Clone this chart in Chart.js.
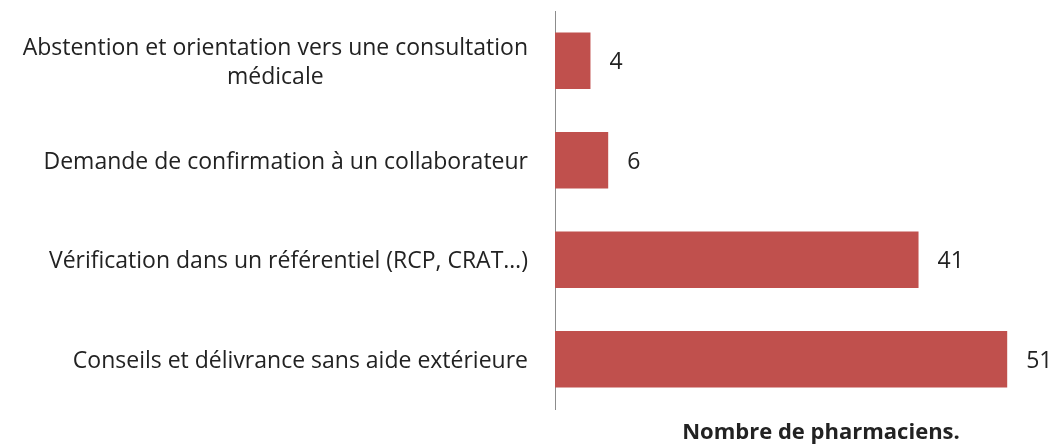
<!DOCTYPE html>
<html>
<head>
<meta charset="utf-8">
<script src="https://cdn.jsdelivr.net/npm/chart.js@4.4.1/dist/chart.umd.min.js"></script>
<style>
html,body{margin:0;padding:0;background:#fff;overflow:hidden;}
#wrap{width:1057px;height:445px;position:relative;overflow:hidden;}
</style>
</head>
<body>
<div id="wrap"><canvas id="c" width="1087" height="445"></canvas></div>
<script>
const categories = [
  ["Abstention et orientation vers une consultation", "médicale"],
  ["Demande de confirmation à un collaborateur"],
  ["Vérification dans un référentiel (RCP, CRAT…)"],
  ["Conseils et délivrance sans aide extérieure"]
];
const values = [4, 6, 41, 51];
const axisTitle = "Nombre de pharmaciens.";
const xMin = 0, xMax = 60;

const FONT = "'Open Sans', sans-serif";
const TEXT = "#222222";

const labelsPlugin = {
  id: 'customLabels',
  afterDatasetsDraw(chart) {
    const ctx = chart.ctx;
    const ys = chart.scales.y;
    const meta = chart.getDatasetMeta(0);
    ctx.save();
    ctx.fillStyle = TEXT;
    ctx.font = "23px " + FONT;
    ctx.textBaseline = 'middle';
    const lh = 29;
    const dy = 2;
    categories.forEach((lines, i) => {
      const cy = ys.getPixelForTick(i) + dy;
      const w = Math.max(...lines.map(l => ctx.measureText(l).width));
      const right = ys.right - 27;
      const cx = right - w / 2;
      ctx.textAlign = 'center';
      const y0 = cy - (lines.length - 1) * lh / 2;
      lines.forEach((l, k) => ctx.fillText(l, cx, y0 + k * lh));
    });
    ctx.textAlign = 'left';
    meta.data.forEach((bar, i) => {
      ctx.fillText(String(values[i]), bar.x + 19, bar.y + dy);
    });
    ctx.restore();
  }
};

new Chart(document.getElementById('c'), {
  type: 'bar',
  data: {
    labels: categories,
    datasets: [{
      data: values,
      backgroundColor: '#C0504D',
      borderWidth: 0,
      categoryPercentage: 1,
      barPercentage: 0.57
    }]
  },
  options: {
    indexAxis: 'y',
    responsive: false,
    animation: false,
    layout: { padding: { top: 11, right: 0, left: 0, bottom: 0 } },
    plugins: { legend: { display: false }, tooltip: { enabled: false } },
    scales: {
      x: {
        min: xMin, max: xMax,
        grid: { display: false },
        border: { display: false },
        ticks: { display: false },
        title: { display: true, text: axisTitle, color: TEXT,
          font: { family: FONT, size: 22, weight: 'bold' }, padding: { top: 0, bottom: -1 } },
        afterFit(s) { s.height = 36; }
      },
      y: {
        grid: { display: false },
        border: { display: true, color: '#8c8c8c', width: 1 },
        ticks: { display: false },
        afterFit(s) { s.width = 555; }
      }
    }
  },
  plugins: [labelsPlugin]
});
</script>
</body>
</html>
